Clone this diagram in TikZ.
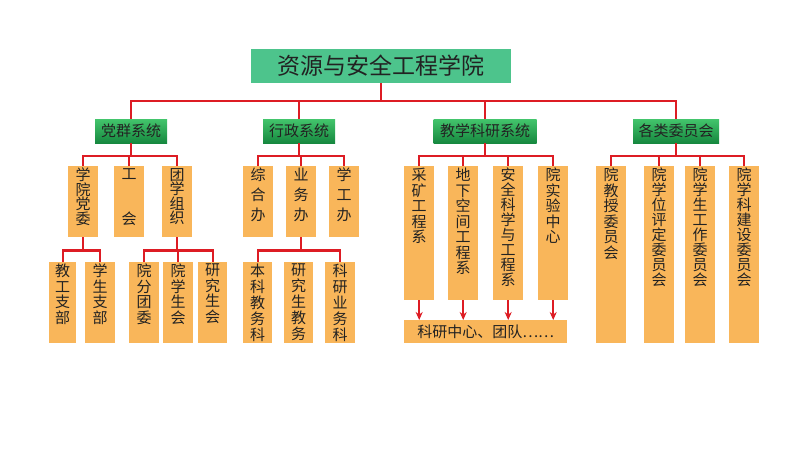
\documentclass[tikz,border=0pt]{standalone}
\usepackage{fontspec}
\setmainfont{Noto Sans CJK SC}
\usetikzlibrary{arrows.meta}
\definecolor{mint}{HTML}{4DC48C}
\definecolor{leaftop}{HTML}{43C56C}
\definecolor{leafbot}{HTML}{16883F}
\definecolor{amber}{HTML}{F9B65A}
\definecolor{wire}{HTML}{DD1C24}
\definecolor{ink}{HTML}{222222}
% vertical column of characters, text at the top
\newcommand{\cell}[4][15.5]{\parbox[t][#3pt][t]{#2pt}{\centering\fontsize{15}{#1}\selectfont\vspace*{2pt}#4}}

\begin{document}
\begin{tikzpicture}[x=1pt,y=-1pt,
  headbox/.style={fill=mint,minimum width=260pt,minimum height=34pt,inner sep=0pt,font=\fontsize{23}{25}\selectfont,text=ink},
  sysbox/.style={top color=leaftop,bottom color=leafbot,minimum height=24pt,inner sep=0pt,font=\fontsize{15}{17}\selectfont,text=ink},
  unitbox/.style={fill=amber,inner sep=0pt,anchor=north west,text=ink},
  link/.style={draw=wire,line width=2.2pt},
  feed/.style={draw=wire,line width=1.6pt,-{Stealth[length=8pt,width=7pt]}}]
\useasboundingbox (0,0) rectangle (800,450);

% top
\node[headbox] (school) at (381,66) {资源与安全工程学院};

% systems
\node[sysbox,minimum width=72pt] (dq) at (131,131) {党群系统};
\node[sysbox,minimum width=72pt] (xz) at (299,131) {行政系统};
\node[sysbox,minimum width=103pt] (jx) at (485,131) {教学科研系统};
\node[sysbox,minimum width=86pt] (wy) at (676,131) {各类委员会};

% units
\node[unitbox] (dqa) at (68,166) {\cell[14.5]{30}{71}{学\\院\\党\\委}};
\node[unitbox] (dqb) at (114,166) {\cell{30}{71}{工\\[30pt]会}};
\node[unitbox] (dqc) at (162,166) {\cell[14.5]{30}{71}{团\\学\\组\\织}};
\node[unitbox] (xza) at (243,166) {\cell[20]{30}{71}{综\\合\\办}};
\node[unitbox] (xzb) at (286,166) {\cell[20]{30}{71}{业\\务\\办}};
\node[unitbox] (xzc) at (329,166) {\cell[20]{30}{71}{学\\工\\办}};
\node[unitbox] (jxa) at (404,166) {\cell{30}{134}{采\\矿\\工\\程\\系}};
\node[unitbox] (jxb) at (448,166) {\cell{30}{134}{地\\下\\空\\间\\工\\程\\系}};
\node[unitbox] (jxc) at (493,166) {\cell[15]{30}{134}{安\\全\\科\\学\\与\\工\\程\\系}};
\node[unitbox] (jxd) at (538,166) {\cell{30}{134}{院\\实\\验\\中\\心}};
\node[unitbox] (wya) at (596,166) {\cell{30}{177}{院\\教\\授\\委\\员\\会}};
\node[unitbox] (wyb) at (644,166) {\cell[15]{30}{177}{院\\学\\位\\评\\定\\委\\员\\会}};
\node[unitbox] (wyc) at (685,166) {\cell[15]{30}{177}{院\\学\\生\\工\\作\\委\\员\\会}};
\node[unitbox] (wyd) at (729,166) {\cell[15]{30}{177}{院\\学\\科\\建\\设\\委\\员\\会}};

% sub units
\node[unitbox] (dqa1) at (49,262) {\cell{27}{81}{教\\工\\支\\部}};
\node[unitbox] (dqa2) at (85,262) {\cell{30}{81}{学\\生\\支\\部}};
\node[unitbox] (dqc1) at (129,262) {\cell{30}{81}{院\\分\\团\\委}};
\node[unitbox] (dqc2) at (163,262) {\cell{30}{81}{院\\学\\生\\会}};
\node[unitbox] (dqc3) at (198,262) {\cell{29}{81}{研\\究\\生\\会}};
\node[unitbox] (xzb1) at (243,262) {\cell[16]{29}{81}{本\\科\\教\\务\\科}};
\node[unitbox] (xzb2) at (284,262) {\cell[16]{29}{81}{研\\究\\生\\教\\务}};
\node[unitbox] (xzb3) at (325,262) {\cell[16]{30}{81}{科\\研\\业\\务\\科}};
\node[unitbox,minimum width=163pt,minimum height=23pt,font=\fontsize{15}{17}\selectfont] (kyzx) at (404,320) {科研中心、团队……};

% wiring
\path (school.south) ++(0,18) coordinate (bus0);
\draw[link] (school.south) -- (bus0);
\draw[link] (dq.north) |- (bus0) -| (wy.north);
\draw[link] (xz.north) -- (xz.north |- bus0);
\draw[link] (jx.north) -- (jx.north |- bus0);

\path (dq.south) ++(0,13) coordinate (dqbus);
\draw[link] (dq.south) -- (dqbus);
\draw[link] (dqa.north) |- (dqbus) -| (dqc.north);
\draw[link] (dqb.north) -- (dqb.north |- dqbus);

\path (xz.south) ++(0,13) coordinate (xzbus);
\draw[link] (xz.south) -- (xzbus);
\draw[link] (xza.north) |- (xzbus) -| (xzc.north);
\draw[link] (xzb.north) -- (xzb.north |- xzbus);

\path (jx.south) ++(0,13) coordinate (jxbus);
\draw[link] (jx.south) -- (jxbus);
\draw[link] (jxa.north) |- (jxbus) -| (jxd.north);
\draw[link] (jxb.north) -- (jxb.north |- jxbus);
\draw[link] (jxc.north) -- (jxc.north |- jxbus);

\path (wy.south) ++(0,13) coordinate (wybus);
\draw[link] (wy.south) -- (wybus);
\draw[link] (wya.north) |- (wybus) -| (wyd.north);
\draw[link] (wyb.north) -- (wyb.north |- wybus);
\draw[link] (wyc.north) -- (wyc.north |- wybus);

\path (dqa.south) ++(0,13) coordinate (dqabus);
\draw[link] (dqa.south) -- (dqabus);
\draw[link] (dqa1.north) |- (dqabus) -| (dqa2.north);

\path (dqc.south) ++(0,13) coordinate (dqcbus);
\draw[link] (dqc.south) -- (dqcbus);
\draw[link] (dqc1.north) |- (dqcbus) -| (dqc3.north);
\draw[link] (dqc2.north) -- (dqc2.north |- dqcbus);

\path (xzb.south) ++(0,13) coordinate (xzbbus);
\draw[link] (xzb.south) -- (xzbbus);
\draw[link] (xzb1.north) |- (xzbbus) -| (xzb3.north);

\foreach \u in {jxa,jxb,jxc,jxd}
  \draw[feed] (\u.south) -- (\u.south |- kyzx.north);
\end{tikzpicture}
\end{document}
